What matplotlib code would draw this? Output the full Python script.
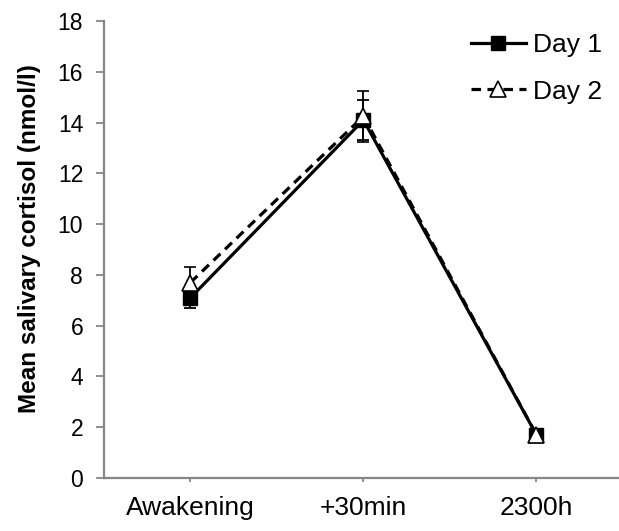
import matplotlib
matplotlib.use("Agg")
import matplotlib.pyplot as plt

plt.rcParams["font.family"] = ["Liberation Sans", "DejaVu Sans"]

# Mean salivary cortisol per sampling time (nmol/l) with error bars
time_points = ["Awakening", "+30min", "2300h"]
day1_mean = [7.1, 14.1, 1.7]
day1_err = [0.4, 0.8, 0.15]
day2_mean = [7.7, 14.25, 1.7]
day2_err = [0.6, 1.0, 0.15]

axis_grey = "#868686"

fig = plt.figure(figsize=(6.19, 5.31), dpi=100)
ax = fig.add_axes([0.168, 0.0998, 0.83, 0.8606])

x = list(range(len(time_points)))

ax.errorbar(x, day1_mean, yerr=day1_err, color="black", lw=2.3,
            marker="s", markersize=10.5, markerfacecolor="black",
            markeredgecolor="black", ecolor="black", elinewidth=1.3,
            capsize=4.5, capthick=1.3, label="Day 1", zorder=3)
ax.errorbar(x, day2_mean, yerr=day2_err, color="black", lw=2.3,
            linestyle=(0, (3, 2)), marker="^", markersize=11,
            markerfacecolor="white", markeredgecolor="black",
            markeredgewidth=1.2, ecolor="black", elinewidth=1.3,
            capsize=4.5, capthick=1.3, label="Day 2", zorder=4)

ax.set_xlim(-0.5, 2.47)
ax.set_ylim(0, 18)
ax.set_yticks(range(0, 19, 2))
ax.set_xticks(x)
ax.set_xticklabels(time_points, fontsize=19)
ax.tick_params(axis="y", labelsize=16.5, length=6, width=1.3,
               color=axis_grey, pad=9)
ax.tick_params(axis="x", length=3, width=1.3, color=axis_grey, pad=10)

for side in ("top", "right"):
    ax.spines[side].set_visible(False)
for side in ("left", "bottom"):
    ax.spines[side].set_color(axis_grey)
    ax.spines[side].set_linewidth(1.6)

ax.set_ylabel("Mean salivary cortisol (nmol/l)", fontsize=17.5,
              fontweight="bold")
ax.yaxis.set_label_coords(-0.123, 0.525)

handles, labels = ax.get_legend_handles_labels()
handles = [h[0] for h in handles]
ax.legend(handles, labels, loc="upper right", bbox_to_anchor=(1.0, 1.008),
          frameon=False, fontsize=19, handlelength=2.1,
          handletextpad=0.25, labelspacing=0.85, borderaxespad=0.2)

fig.savefig("out.png", dpi=100)
